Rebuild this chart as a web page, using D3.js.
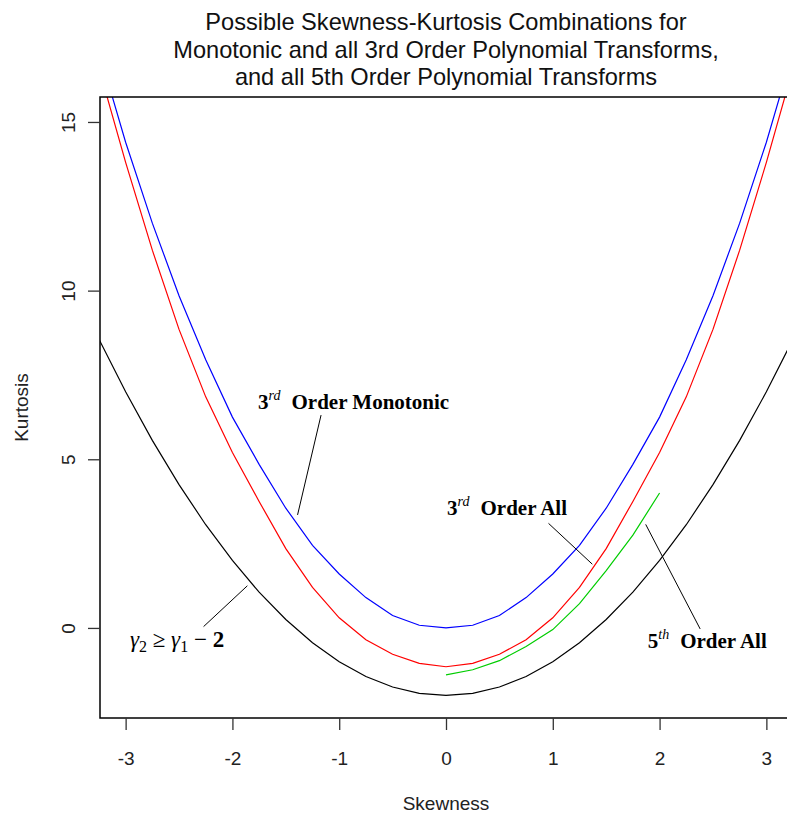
<!DOCTYPE html>
<html>
  <head>
    <title>Skewness-Kurtosis</title>
    <script src="https://cdn.jsdelivr.net/npm/d3@7"></script>
    <style>
body { margin: 0; background: #fff; }
text { font-family: "Liberation Sans", Arial, sans-serif; }
.note { font-family: "Liberation Serif", "Times New Roman", serif; font-size: 21px; }
.tick-label { font-size: 19px; fill: #222; }
    </style>
  </head>
  <body>
    <script>

// skewness grid and kurtosis boundaries
var skew = [-3.5, -3.25, -3, -2.75, -2.5, -2.25, -2, -1.75, -1.5, -1.25, -1, -0.75, -0.5, -0.25,
            0, 0.25, 0.5, 0.75, 1, 1.25, 1.5, 1.75, 2, 2.25, 2.5, 2.75, 3, 3.25, 3.5];

var lowerBound = [10.25, 8.56, 7, 5.56, 4.25, 3.06, 2, 1.06, 0.25, -0.44, -1, -1.44, -1.75, -1.94,
                  -2, -1.94, -1.75, -1.44, -1, -0.44, 0.25, 1.06, 2, 3.06, 4.25, 5.56, 7, 8.56, 10.25];

var monotonic3 = [20.0, 17.1, 14.4, 12.0, 9.85, 7.95, 6.25, 4.85, 3.55, 2.45, 1.6, 0.9, 0.37, 0.08,
                  0, 0.08, 0.37, 0.9, 1.6, 2.45, 3.55, 4.85, 6.25, 7.95, 9.85, 12.0, 14.4, 17.1, 20.0];

var all3 = [19.6, 16.6, 13.8, 11.2, 8.85, 6.85, 5.2, 3.75, 2.35, 1.2, 0.3, -0.35, -0.78, -1.05,
            -1.15, -1.05, -0.78, -0.35, 0.3, 1.2, 2.35, 3.75, 5.2, 6.85, 8.85, 11.2, 13.8, 16.6, 19.6];

var skew5 = [0, 0.25, 0.5, 0.75, 1, 1.25, 1.5, 1.75, 2];
var all5 = [-1.39, -1.24, -0.97, -0.55, -0.05, 0.72, 1.7, 2.75, 4.0];

var xTicks = [-3, -2, -1, 0, 1, 2, 3];
var yTicks = [0, 5, 10, 15];

var titleLines = ["Possible Skewness-Kurtosis Combinations for",
                  "Monotonic and all 3rd Order Polynomial Transforms,",
                  "and all 5th Order Polynomial Transforms"];

var w = 787,
    h = 817,
    pLeft = 100,
    pRight = 792,
    pTop = 97,
    pBottom = 718;

var x = d3.scaleLinear().domain([-3.24, 3.24]).range([pLeft, pRight]),
    y = d3.scaleLinear().domain([-2.67, 15.74]).range([pBottom, pTop]);

var svg = d3.select("body").append("svg")
    .attr("width", w)
    .attr("height", h);

svg.append("clipPath").attr("id", "plot")
  .append("rect")
    .attr("x", pLeft).attr("y", pTop)
    .attr("width", pRight - pLeft).attr("height", pBottom - pTop);

var line = d3.line()
    .x(function(d) { return x(d[0]); })
    .y(function(d) { return y(d[1]); });

function pairs(xs, ys) {
  return xs.map(function(v, i) { return [v, ys[i]]; });
}

var series = [
  {values: pairs(skew, lowerBound), color: "#000000"},
  {values: pairs(skew, monotonic3), color: "#0000ff"},
  {values: pairs(skew, all3), color: "#ff0000"},
  {values: pairs(skew5, all5), color: "#00cd00"}
];

svg.append("g")
    .attr("clip-path", "url(#plot)")
  .selectAll("path")
    .data(series)
  .enter().append("path")
    .attr("fill", "none")
    .attr("stroke", function(d) { return d.color; })
    .attr("stroke-width", 1.2)
    .attr("d", function(d) { return line(d.values); });

// frame
svg.append("rect")
    .attr("x", pLeft).attr("y", pTop)
    .attr("width", pRight - pLeft).attr("height", pBottom - pTop)
    .attr("fill", "none")
    .attr("stroke", "#000")
    .attr("stroke-width", 1.5);

// axes
var xAxis = svg.append("g")
    .attr("transform", "translate(0," + pBottom + ")")
    .call(d3.axisBottom(x).tickValues(xTicks).tickSize(12).tickSizeOuter(0));
xAxis.select(".domain").remove();
xAxis.selectAll("line").attr("stroke", "#333").attr("stroke-width", 1.3);
xAxis.selectAll("text")
    .attr("class", "tick-label")
    .attr("y", 47).attr("dy", 0)
    .text(function(d) { return d < 0 ? "-" + Math.abs(d) : d; });

var yAxis = svg.append("g")
    .attr("transform", "translate(" + pLeft + ",0)")
    .call(d3.axisLeft(y).tickValues(yTicks).tickSize(12).tickSizeOuter(0));
yAxis.select(".domain").remove();
yAxis.selectAll("line").attr("stroke", "#333").attr("stroke-width", 1.3);
yAxis.selectAll("text")
    .attr("class", "tick-label")
    .attr("x", 0).attr("y", 0).attr("dy", 0)
    .attr("text-anchor", "middle")
    .attr("transform", "translate(-25,0) rotate(-90)");

svg.append("text")
    .attr("class", "tick-label")
    .attr("x", 446)
    .attr("y", 810)
    .attr("text-anchor", "middle")
    .text("Skewness");

svg.append("text")
    .attr("class", "tick-label")
    .attr("transform", "translate(28," + (pTop + pBottom) / 2 + ") rotate(-90)")
    .attr("text-anchor", "middle")
    .text("Kurtosis");

svg.selectAll("text.title")
    .data(titleLines)
  .enter().append("text")
    .attr("class", "title")
    .attr("x", 446)
    .attr("y", function(d, i) { return 30 + i * 27.5; })
    .attr("text-anchor", "middle")
    .attr("font-size", 23.6)
    .attr("fill", "#111")
    .text(function(d) { return d; });

// annotations with pointer lines
var pointers = [
  [[-1.17, 6.31], [-1.39, 3.35]],
  [[0.96, 3.10], [1.37, 1.89]],
  [[1.87, 3.07], [2.38, -0.03]],
  [[-2.27, 0.04], [-1.86, 1.25]]
];

svg.selectAll("line.pointer")
    .data(pointers)
  .enter().append("line")
    .attr("class", "pointer")
    .attr("x1", function(d) { return x(d[0][0]); })
    .attr("y1", function(d) { return y(d[0][1]); })
    .attr("x2", function(d) { return x(d[1][0]); })
    .attr("y2", function(d) { return y(d[1][1]); })
    .attr("stroke", "#000")
    .attr("stroke-width", 1);

function ordinal(px, py, num, sup, rest) {
  var t = svg.append("text")
      .attr("class", "note")
      .style("font-weight", "bold")
      .attr("x", x(px))
      .attr("y", y(py));
  t.append("tspan").text(num);
  t.append("tspan")
      .style("font-size", "14px")
      .style("font-style", "italic")
      .style("font-weight", "normal")
      .attr("dy", -9)
      .text(sup);
  t.append("tspan")
      .attr("dx", 11)
      .attr("dy", 9)
      .text(rest);
}

ordinal(-1.76, 6.49, "3", "rd", "Order Monotonic");
ordinal(0.01, 3.35, "3", "rd", "Order All");
ordinal(1.89, -0.59, "5", "th", "Order All");

var g = svg.append("text")
    .attr("class", "note")
    .style("font-weight", "normal")
    .style("font-size", "23px")
    .attr("x", x(-2.96))
    .attr("y", y(-0.56));
g.append("tspan").style("font-style", "italic").text("\u03b3");
g.append("tspan").style("font-size", "16px").attr("dy", 5).text("2");
g.append("tspan").attr("dy", -5).text(" \u2265 ");
g.append("tspan").style("font-style", "italic").text("\u03b3");
g.append("tspan").style("font-size", "16px").attr("dy", 5).text("1");
g.append("tspan").attr("dy", -5).text(" \u2212 ");
g.append("tspan").style("font-weight", "bold").text("2");

    </script>
  </body>
</html>
